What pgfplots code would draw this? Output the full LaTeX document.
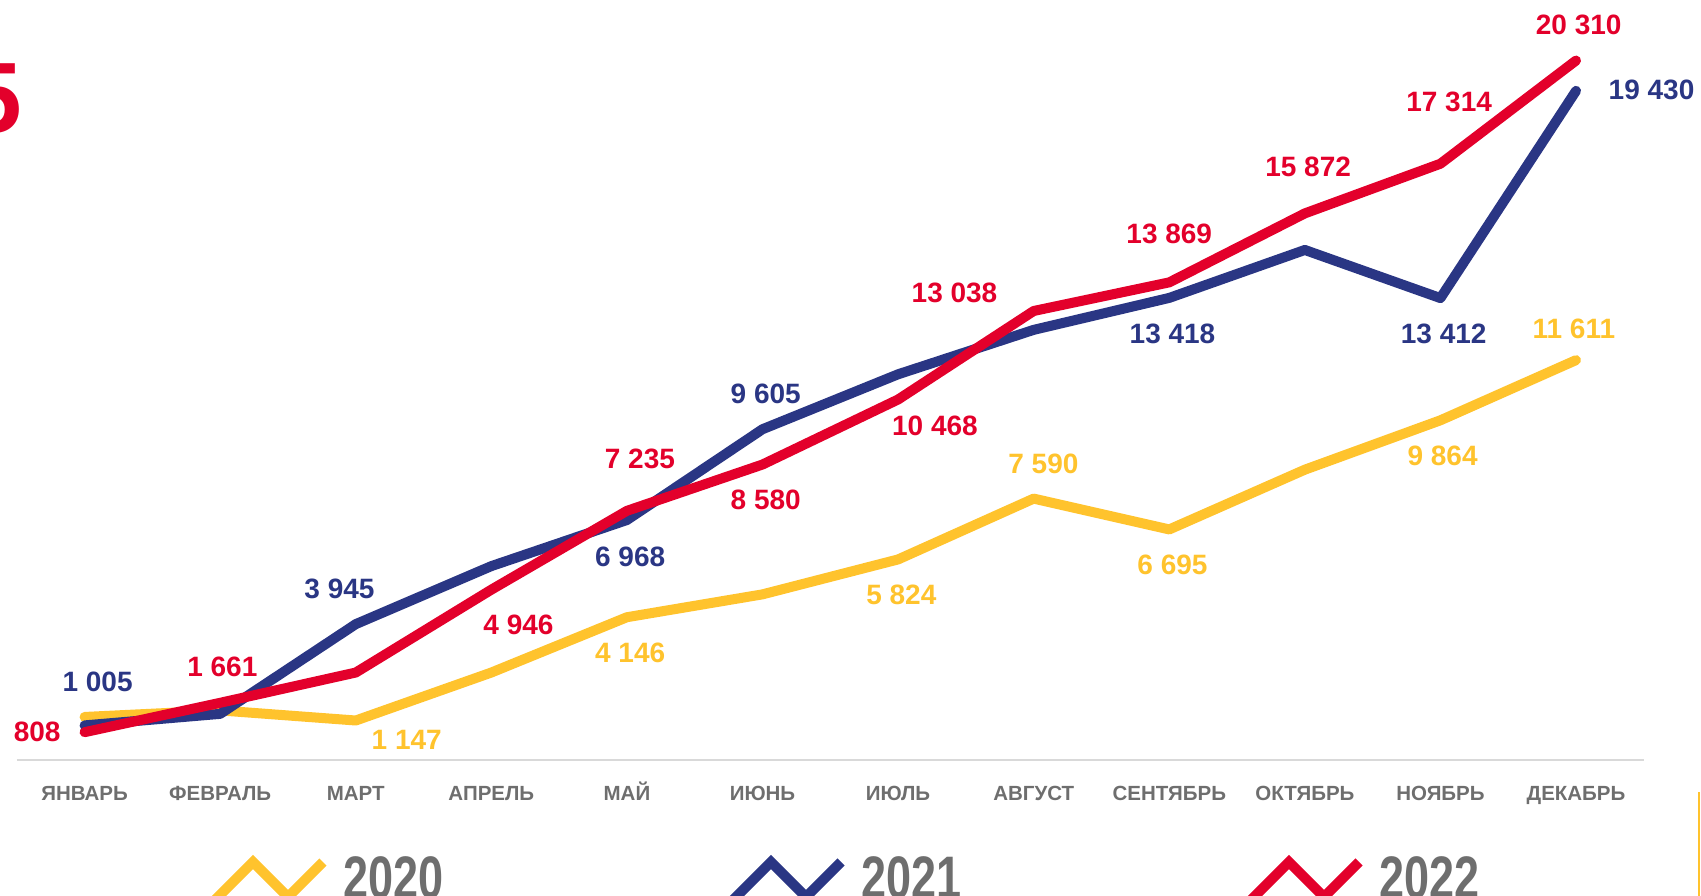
\documentclass[border=0pt]{standalone}
\usepackage{pgfplots}
\pgfplotsset{compat=1.18}
\usepackage{fontspec}
\setmainfont{Liberation Sans}
\newfontfamily\narrowfont{Liberation Sans}[FakeStretch=0.75]

\definecolor{c20}{RGB}{255,195,45}
\definecolor{c21}{RGB}{42,54,132}
\definecolor{c22}{RGB}{227,0,43}
\definecolor{txtgray}{RGB}{110,110,110}
\definecolor{basegray}{RGB}{217,217,217}

\tikzset{lab/.style={font=\bfseries\fontsize{8.4}{9}\selectfont, inner sep=0pt, anchor=center}}

\begin{document}
\begin{tikzpicture}
\useasboundingbox (0pt,0pt) rectangle (510.3pt,268.5pt);
\clip (0pt,0pt) rectangle (510.3pt,268.5pt);

\begin{axis}[
    at={(5.04pt,40.5pt)}, anchor=south west,
    scale only axis,
    width=488.1pt, height=227.3pt,
    xmin=-0.5, xmax=11.5, ymin=0, ymax=22000,
    axis x line=bottom, axis y line=none,
    x axis line style={-, draw=basegray, line width=0.6pt},
    xtick={0,...,11},
    xticklabels={ЯНВАРЬ, ФЕВРАЛЬ, МАРТ, АПРЕЛЬ, МАЙ, ИЮНЬ, ИЮЛЬ, АВГУСТ, СЕНТЯБРЬ, ОКТЯБРЬ, НОЯБРЬ, ДЕКАБРЬ},
    major tick length=0pt,
    xticklabel style={font=\bfseries\fontsize{6.15}{7}\selectfont, text=txtgray, anchor=base, inner sep=0pt, yshift=-12.1pt},
    ytick=\empty,
    clip=false,
    every axis plot/.append style={line width=3pt, line cap=round, line join=round, mark=none},
]
% 2020
\addplot[c20] coordinates {(0,1250) (1,1440) (2,1147) (3,2540) (4,4146) (5,4810) (6,5824) (7,7590) (8,6695) (9,8430) (10,9864) (11,11611)};
% 2021
\addplot[c21] coordinates {(0,1005) (1,1340) (2,3945) (3,5630) (4,6968) (5,9605) (6,11200) (7,12490) (8,13418) (9,14810) (10,13412) (11,19430)};
% 2022
\addplot[c22] coordinates {(0,808) (1,1661) (2,2540) (3,4946) (4,7235) (5,8580) (6,10468) (7,13038) (8,13869) (9,15872) (10,17314) (11,20310)};

% labels 2022
\node[lab, text=c22] at (axis cs:-0.35,806) {808};
\node[lab, text=c22] at (axis cs:1.016,2697) {1 661};
\node[lab, text=c22] at (axis cs:3.2,3925) {4 946};
\node[lab, text=c22] at (axis cs:4.096,8744) {7 235};
\node[lab, text=c22] at (axis cs:5.024,7547) {8 580};
\node[lab, text=c22] at (axis cs:6.272,9689) {10 468};
\node[lab, text=c22] at (axis cs:6.416,13564) {13 038};
\node[lab, text=c22] at (axis cs:8.0,15265) {13 869};
\node[lab, text=c22] at (axis cs:9.024,17218) {15 872};
\node[lab, text=c22] at (axis cs:10.064,19108) {17 314};
\node[lab, text=c22] at (axis cs:11.02,21344) {20 310};
% labels 2021
\node[lab, text=c21] at (axis cs:0.096,2255) {1 005};
\node[lab, text=c21] at (axis cs:1.88,4964) {3 945};
\node[lab, text=c21] at (axis cs:4.024,5909) {6 968};
\node[lab, text=c21] at (axis cs:5.024,10634) {9 605};
\node[lab, text=c21] at (axis cs:8.024,12367) {13 418};
\node[lab, text=c21] at (axis cs:10.024,12367) {13 412};
\node[lab, text=c21] at (axis cs:11.557,19457) {19 430};
% labels 2020
\node[lab, text=c20] at (axis cs:2.376,586) {1 147};
\node[lab, text=c20] at (axis cs:4.024,3106) {4 146};
\node[lab, text=c20] at (axis cs:6.024,4807) {5 824};
\node[lab, text=c20] at (axis cs:7.072,8587) {7 590};
\node[lab, text=c20] at (axis cs:8.024,5657) {6 695};
\node[lab, text=c20] at (axis cs:10.016,8844) {9 864};
\node[lab, text=c20] at (axis cs:10.984,12524) {11 611};
\end{axis}

\begin{scope}[x=0.3pt,y=0.3pt]
% cropped title digit
\node[anchor=base east, inner sep=0pt, text=c22, font=\bfseries\fontsize{30}{30}\selectfont] at (23,762) {5};
% legend
\foreach \dx/\col/\yr in {0/c20/2020, 518/c21/2021, 1036/c22/2022}{
  \draw[\col, line width=3pt, line join=miter, line cap=butt]
    (205+\dx,-15) -- (253+\dx,33) -- (288+\dx,-2) -- (323+\dx,33);
  \node[anchor=base west, inner sep=0pt, text=txtgray, font=\narrowfont\bfseries\fontsize{18}{18}\selectfont]
    at (343+\dx,-3) {\yr};
}
% thin accent line at right edge
\draw[c20, line width=0.8pt] (1699,103) -- (1699,-10);
\end{scope}
\end{tikzpicture}
\end{document}
